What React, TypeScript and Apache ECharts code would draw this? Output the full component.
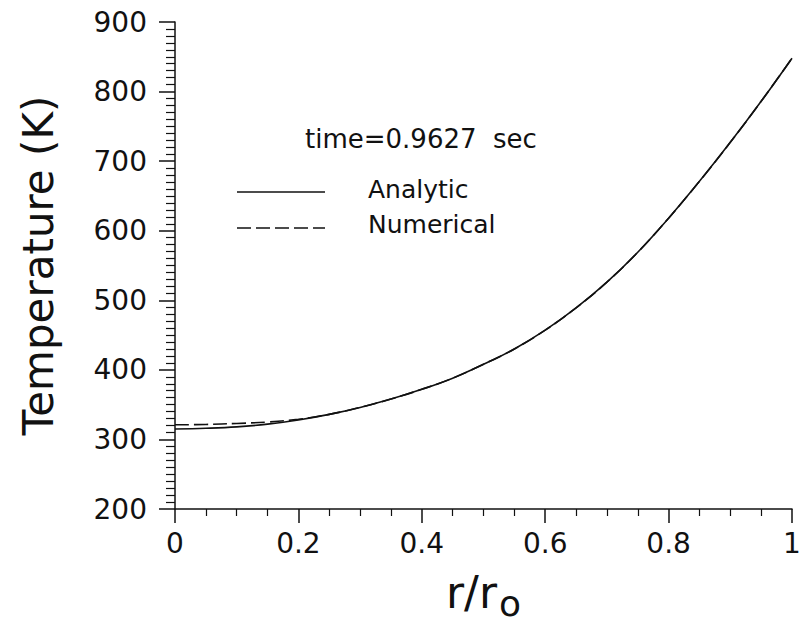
import React, { useEffect, useRef } from "react";
import * as echarts from "echarts";

const radius = [0, 0.05, 0.1, 0.15, 0.2, 0.25, 0.3, 0.35, 0.4, 0.45, 0.5, 0.55, 0.6, 0.65, 0.7, 0.75, 0.8, 0.85, 0.9, 0.95, 1.0];
const analytic = [315, 316, 318, 322, 328, 336, 346, 358, 372, 388, 408, 430, 457, 489, 526, 569, 618, 671, 727, 786, 848];
const numerical = [321, 321.5, 323, 325, 329, 336, 346, 358, 372, 388, 408, 430, 457, 489, 526, 569, 618, 671, 727, 786, 848];
const seriesNames = ["Analytic", "Numerical"];
const titleText = "time=0.9627  sec";

const FONT = "DejaVu Sans";

export default function App() {
  const ref = useRef<HTMLDivElement>(null);
  useEffect(() => {
    if (!ref.current) return;
    const chart = echarts.init(ref.current, null, { renderer: "svg" });
    const toPairs = (ys: number[]) => radius.map((r, i) => [r, ys[i]]);
    chart.setOption({
      animation: false,
      backgroundColor: "#ffffff",
      grid: { left: 175, right: 9, top: 22, bottom: 113, containLabel: false, outerBoundsMode: "none" },
      xAxis: {
        type: "value",
        min: 0,
        max: 1,
        interval: 0.2,
        name: "{a|r/r}{b|o}",
        nameLocation: "middle",
        nameGap: 54,
        nameTextStyle: {
          rich: {
            a: { fontFamily: FONT, fontSize: 44, color: "#111", fontWeight: "normal" },
            b: { fontFamily: FONT, fontSize: 36, color: "#111", fontWeight: "normal", verticalAlign: "bottom", padding: [22, 0, 0, 2] },
          },
        },
        axisLine: { show: true, onZero: false, lineStyle: { color: "#111", width: 1.5 } },
        axisTick: { show: true, inside: false, length: 14, lineStyle: { color: "#111", width: 1.5 } },
        minorTick: { show: true, splitNumber: 4, length: 7, lineStyle: { color: "#111", width: 1.2 } },
        splitLine: { show: false },
        minorSplitLine: { show: false },
        axisLabel: { fontFamily: FONT, fontSize: 28, color: "#111", margin: 20 },
      },
      yAxis: {
        type: "value",
        min: 200,
        max: 900,
        interval: 100,
        name: "Temperature (K)",
        nameLocation: "middle",
        nameGap: 116,
        nameTextStyle: { fontFamily: FONT, fontSize: 42, color: "#111" },
        axisLine: { show: true, onZero: false, lineStyle: { color: "#111", width: 1.5 } },
        axisTick: { show: true, inside: false, length: 16, lineStyle: { color: "#111", width: 1.5 } },
        minorTick: { show: true, splitNumber: 10, length: 9, lineStyle: { color: "#111", width: 1.2 } },
        splitLine: { show: false },
        minorSplitLine: { show: false },
        axisLabel: { fontFamily: FONT, fontSize: 28, color: "#111", margin: 28 },
      },
      series: [
        {
          name: seriesNames[0],
          type: "line",
          data: toPairs(analytic),
          smooth: 0.4,
          showSymbol: false,
          lineStyle: { color: "#111", width: 1.6, type: "solid" },
        },
        {
          name: seriesNames[1],
          type: "line",
          data: toPairs(numerical),
          smooth: 0.4,
          showSymbol: false,
          lineStyle: { color: "#111", width: 1.6, type: [14, 5] },
        },
      ],
      graphic: [
        {
          type: "text",
          left: 305,
          top: 126,
          style: { text: titleText, fontFamily: FONT, fontSize: 26, fill: "#111" },
        },
        {
          type: "line",
          shape: { x1: 237, y1: 192, x2: 325, y2: 192 },
          style: { stroke: "#111", lineWidth: 1.5 },
        },
        {
          type: "text",
          left: 368,
          top: 177,
          style: { text: seriesNames[0], fontFamily: FONT, fontSize: 25, fill: "#111" },
        },
        {
          type: "line",
          shape: { x1: 237, y1: 228, x2: 325, y2: 228 },
          style: { stroke: "#111", lineWidth: 1.5, lineDash: [14, 5] },
        },
        {
          type: "text",
          left: 368,
          top: 212,
          style: { text: seriesNames[1], fontFamily: FONT, fontSize: 25, fill: "#111" },
        },
      ],
    });
    return () => chart.dispose();
  }, []);
  return (
    <div
      ref={ref}
      style={{ position: "fixed", left: 0, top: 0, width: 801, height: 622, background: "#fff" }}
    />
  );
}
